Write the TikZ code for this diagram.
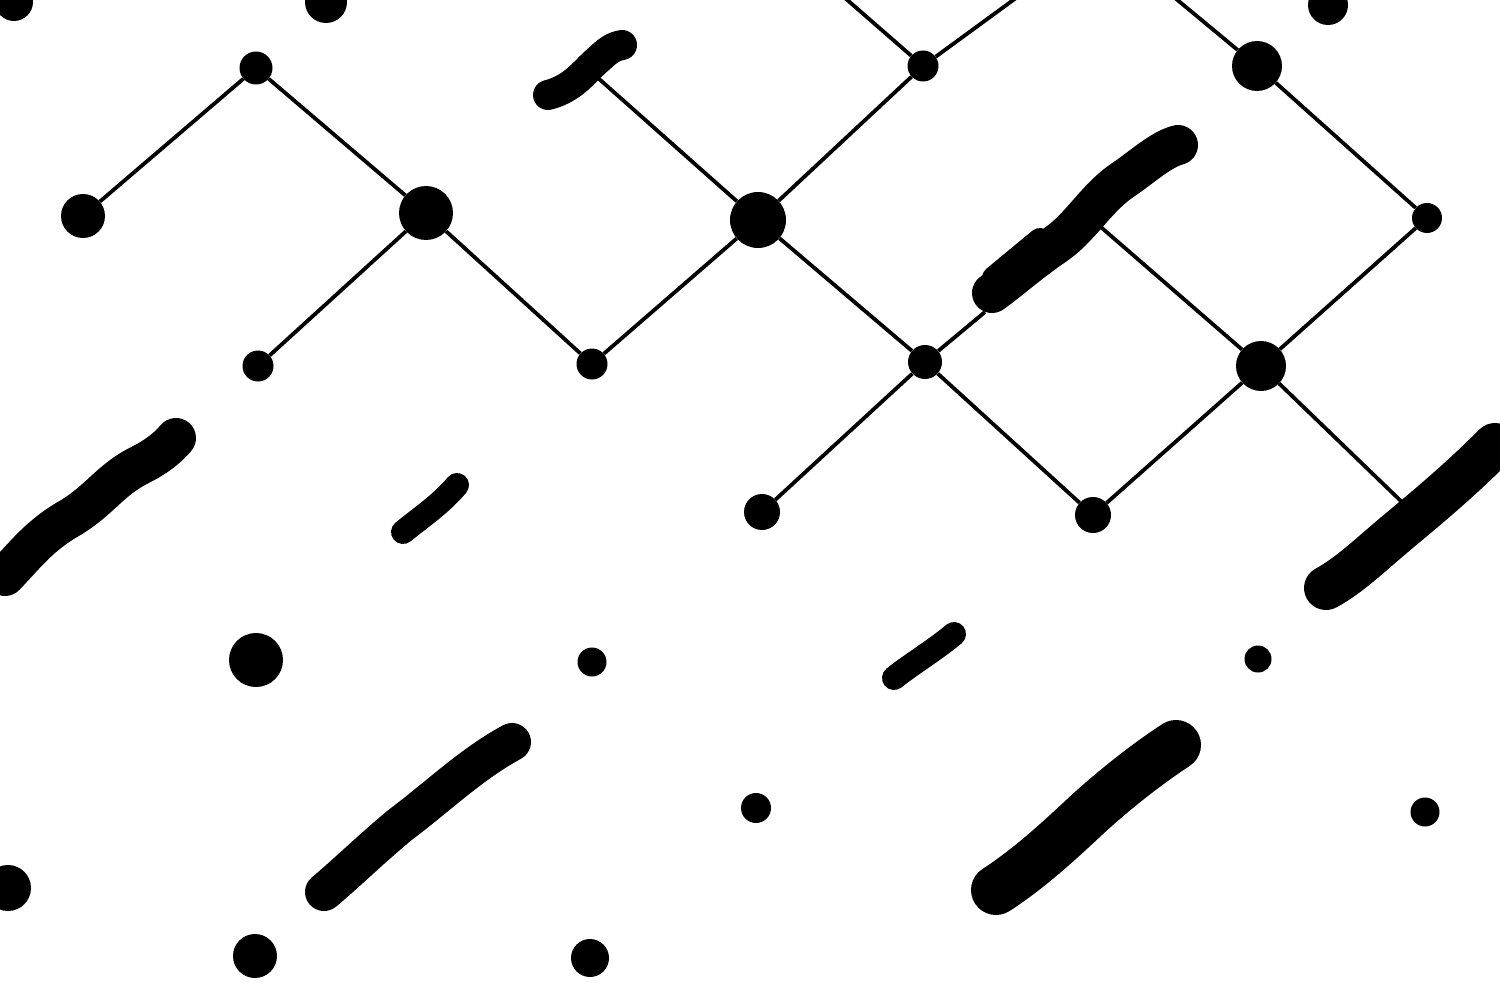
\documentclass[tikz,border=0pt]{standalone}
\begin{document}
\begin{tikzpicture}[x=1pt,y=-1pt,
  dot/.style={circle,fill=black,inner sep=0pt,minimum size=#1},
  edge/.style={line width=3.8pt},
  smear/.style={line width=#1,line cap=round,line join=round},
]
\useasboundingbox (0,0) rectangle (1500,995);
\begin{scope}
\clip (0,0) rectangle (1500,995);
% dots
\node[dot=38pt] (p0) at (14,2) {};
\node[dot=42pt] (p1) at (326,2) {};
\node[dot=40pt] (p2) at (1328,5) {};
\node[dot=33pt] (n1) at (256,68) {};
\node[dot=44pt] (n2) at (83,216) {};
\node[dot=54pt] (n3) at (426,213) {};
\node[dot=56pt] (n4) at (758,220) {};
\node[dot=31pt] (n5) at (923,66) {};
\node[dot=50pt] (n6) at (1257,66) {};
\node[dot=30pt] (n7) at (1427,218) {};
\node[dot=31pt] (n8) at (258,366) {};
\node[dot=31pt] (n9) at (592,364) {};
\node[dot=34pt] (n10) at (925,362) {};
\node[dot=50pt] (n11) at (1261,366) {};
\node[dot=36pt] (n12) at (762,512) {};
\node[dot=36pt] (n13) at (1093,515) {};
\node[dot=54pt] (q1) at (256,660) {};
\node[dot=29pt] (q2) at (592,662) {};
\node[dot=27pt] (q3) at (1258,659) {};
\node[dot=30pt] (q4) at (756,808) {};
\node[dot=29pt] (q5) at (1425,812) {};
\node[dot=46pt] (q6) at (8,888) {};
\node[dot=44pt] (q7) at (255,956) {};
\node[dot=38pt] (q8) at (590,958) {};
% free ends
\coordinate (e1) at (598,78);
\coordinate (e2) at (845,-2);
\coordinate (e3) at (1016,-2);
\coordinate (e4) at (1175,-2);
\coordinate (e5) at (985,312);
\coordinate (e6) at (1095,222);
\coordinate (e7) at (1405,505);
% edges
\draw[edge] (n1) -- (n2);
\draw[edge] (n1) -- (n3);
\draw[edge] (n3) -- (n8);
\draw[edge] (n3) -- (n9);
\draw[edge] (n9) -- (n4);
\draw[edge] (n4) -- (e1);
\draw[edge] (n4) -- (n5);
\draw[edge] (n5) -- (e2);
\draw[edge] (n5) -- (e3);
\draw[edge] (n4) -- (n10);
\draw[edge] (n10) -- (e5);
\draw[edge] (n10) -- (n12);
\draw[edge] (n10) -- (n13);
\draw[edge] (n13) -- (n11);
\draw[edge] (n11) -- (e6);
\draw[edge] (n11) -- (e7);
\draw[edge] (n11) -- (n7);
\draw[edge] (n7) -- (n6);
\draw[edge] (n6) -- (e4);
% smears
\draw[smear=30pt] (548,95) .. controls (575,88) and (585,70) .. (600,58) .. controls (608,50) and (615,46) .. (622,45);
\draw[smear=40pt] (992,293) .. controls (1010,280) and (1030,262) .. (1055,245) .. controls (1080,228) and (1095,200) .. (1120,182) .. controls (1145,165) and (1160,150) .. (1178,145);
\draw[smear=24pt] (994,278) -- (1040,240);
\draw[smear=40pt] (5,576) .. controls (25,555) and (40,535) .. (70,518) .. controls (100,500) and (110,480) .. (140,465) .. controls (160,455) and (170,445) .. (176,438);
\draw[smear=24pt] (403,532) .. controls (420,518) and (440,505) .. (457,485);
\draw[smear=44pt] (1326,588) .. controls (1350,575) and (1370,555) .. (1400,530) .. controls (1430,505) and (1460,480) .. (1495,445);
\draw[smear=24pt] (894,678) .. controls (910,665) and (935,650) .. (954,634);
\draw[smear=38pt] (324,892) .. controls (350,870) and (370,850) .. (400,825) .. controls (440,795) and (470,765) .. (512,742);
\draw[smear=50pt] (996,890) .. controls (1030,868) and (1060,840) .. (1090,812) .. controls (1120,785) and (1150,762) .. (1176,745);
\end{scope}
\end{tikzpicture}
\end{document}
